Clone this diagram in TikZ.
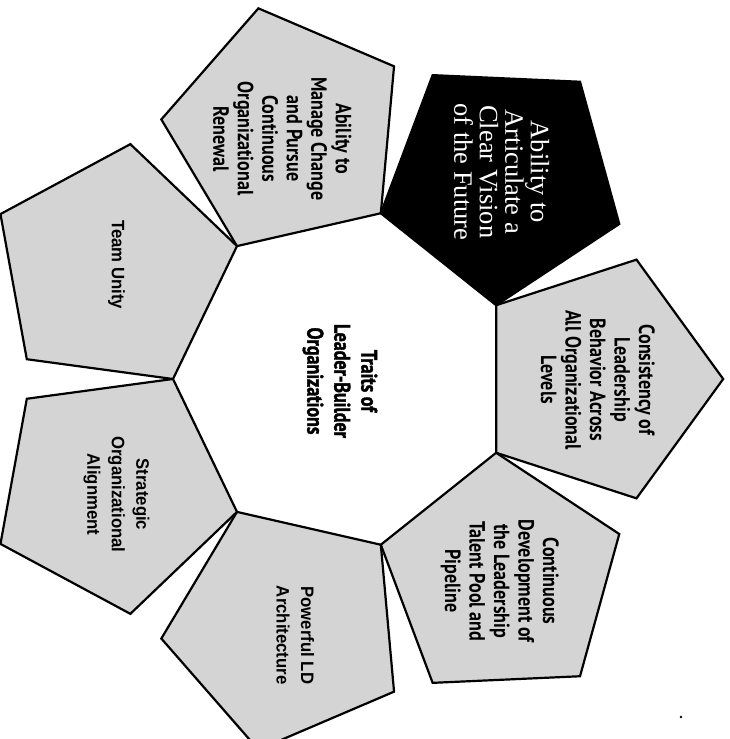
\documentclass[tikz,border=0pt]{standalone}
\usepackage{fontspec}
\setmainfont{Liberation Serif}
\newfontfamily\myr[FakeStretch=0.82]{PT Sans}
\newfontfamily\ari[FakeStretch=0.93]{Liberation Sans}
\newfontfamily\ctr[FakeStretch=0.8,BoldFeatures={FakeBold=1.6}]{PT Sans}
\usetikzlibrary{shapes.geometric}
\tikzset{
  pent/.style={regular polygon, regular polygon sides=5, minimum size=251pt,
    inner sep=0pt, outer sep=0pt, draw=black, line width=2.2pt, line join=miter,
    fill=black!17},
  blackpent/.style={pent, fill=black},
  txt/.style={align=center, rotate=-90, inner sep=0pt},
  tmyr/.style={txt, font=\myr\bfseries\fontsize{22}{24.5}\selectfont},
  tari/.style={txt, font=\ari\bfseries\fontsize{18}{24.5}\selectfont},
  tser/.style={txt, text=white, font=\fontsize{26.5}{25.5}\selectfont},
  tctr/.style={txt, font=\ctr\bfseries\fontsize{22.5}{27}\selectfont}
}
\begin{document}
\begin{tikzpicture}[x=1pt,y=1pt]
\useasboundingbox (0,0) rectangle (729,739);
\clip (0,0) rectangle (729,739);
\coordinate (O) at (343,360);
% pentagons: apex direction m, centre at distance 254.7 from O
\node[pent, shape border rotate=64.29]   (p0) at ([shift={(154.29:254.7)}]O) {};
\node[pent, shape border rotate=12.86]   (p1) at ([shift={(102.86:254.7)}]O) {};
\node[blackpent, shape border rotate=-38.57] (p2) at ([shift={(51.43:254.7)}]O) {};
\node[pent, shape border rotate=-90]     (p3) at ([shift={(0:254.7)}]O) {};
\node[pent, shape border rotate=-141.43] (p4) at ([shift={(-51.43:254.7)}]O) {};
\node[pent, shape border rotate=-192.86] (p5) at ([shift={(-102.86:254.7)}]O) {};
\node[pent, shape border rotate=-244.29] (p6) at ([shift={(-154.29:254.7)}]O) {};
% texts
\node[tari] (t0) at ([shift={(3,4)}]p0.center) {Team Unity};
\node[tmyr] (t1) at ([shift={(-4,-8)}]p1.center) {Ability to\\Manage Change\\and Pursue\\Continuous\\Organizational\\Renewal};
\node[tser] (t2) at ([shift={(0,8)}]p2.center) {Ability to\\Articulate a\\Clear Vision\\of the Future};
\node[tmyr] (t3) at ([shift={(0,-1)}]p3.center) {Consistency of\\Leadership\\Behavior Across\\All Organizational\\Levels};
\node[tmyr] (t4) at ([shift={(-2,-3)}]p4.center) {Continuous\\Development of\\the Leadership\\Talent Pool and\\Pipeline};
\node[tari] (t5) at ([shift={(9,-8)}]p5.center) {Powerful LD\\Architecture};
\node[tari] (t6) at ([shift={(3,-5)}]p6.center) {Strategic\\Organizational\\Alignment};
\node[tctr] (c) at (340,358) {Traits of\\Leader-Builder\\Organizations};
\fill (681,22) circle (1.3pt);
\end{tikzpicture}
\end{document}
